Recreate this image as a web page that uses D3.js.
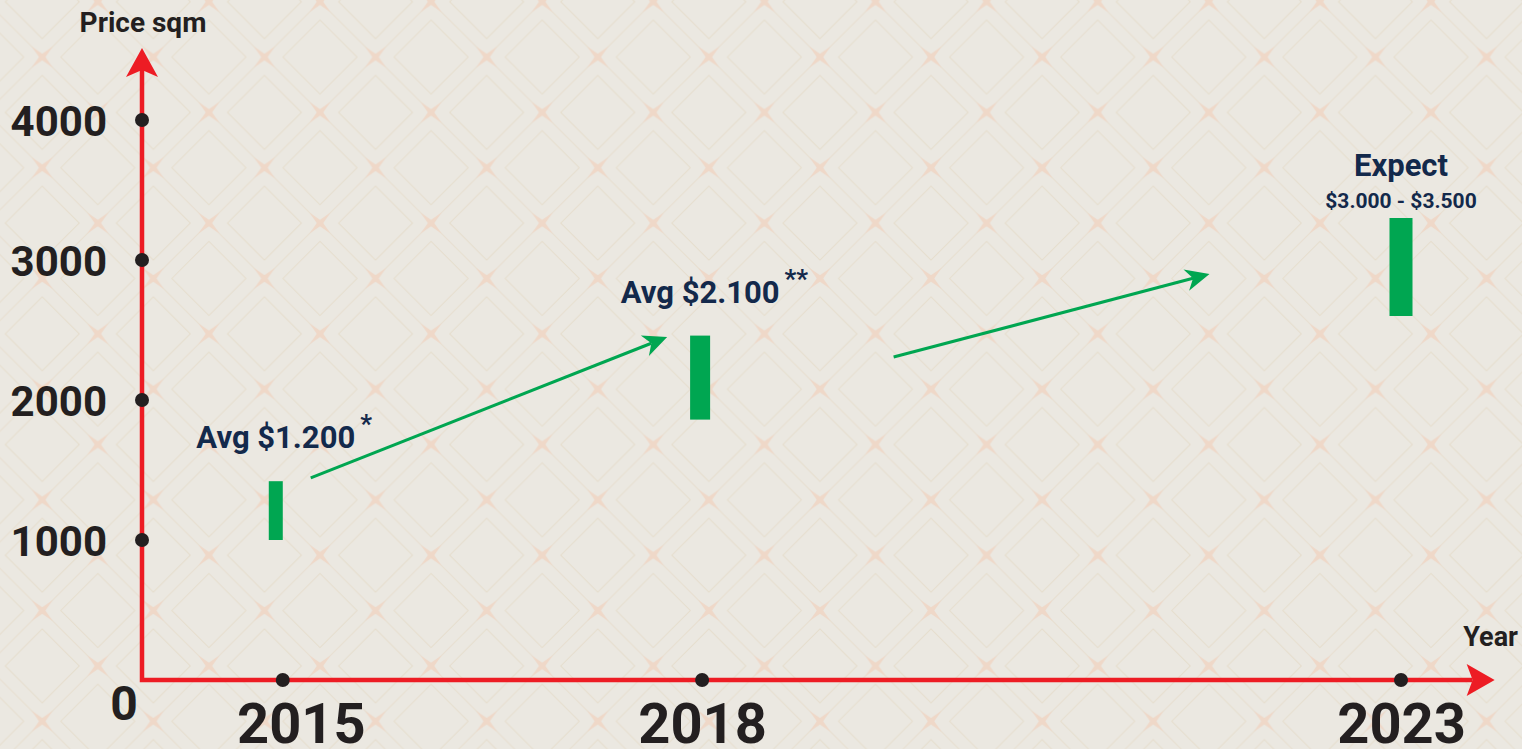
<!DOCTYPE html>
<html>
<head>
<meta charset="utf-8">
<script src="https://cdn.jsdelivr.net/npm/d3@7"></script>
<style>
  html, body { margin: 0; padding: 0; background: #ebe8e1; overflow: hidden; }
  svg { display: block; }
  text { font-family: Roboto, "Open Sans", sans-serif; font-weight: 700; }
</style>
</head>
<body>
<div id="chart"></div>
<script>
// price per sqm, low / high end of each bar
var years = [2015, 2018, 2023];
var lowPrices = [1000, 1860, 2600];
var highPrices = [1420, 2460, 3300];
var priceLabels = ['Avg $1.200', 'Avg $2.100', 'Expect'];
var footnotes = ['*', '**', ''];
var rangeLabels = ['', '', '$3.000 - $3.500'];
var yTicks = [1000, 2000, 3000, 4000];
// trend arrows, [year, price]
var trendFrom = [[2015.2, 1443], [2019.37, 2307]];
var trendTo = [[2017.75, 2450], [2021.63, 2900]];

var width = 1522,
  height = 749,
  red = '#ed1c24',
  green = '#00a651',
  ink = '#231f20',
  navy = '#13294b';

var barWidths = [14, 20, 23],
  barShift = [-7, -2, 0];

var x = d3.scaleLinear().domain([2014, 2023]).range([143, 1401]);
var y = d3.scaleLinear().domain([0, 4000]).range([680, 120]);
var originX = 142, originY = 680;

var svg = d3.select('#chart').append('svg')
  .attr('width', width)
  .attr('height', height);

// background tiles: diagonal lattice, inset diamonds, little stars
var tileW = 111.1, tileH = 110.7;
var pat = svg.append('defs').append('pattern')
  .attr('id', 'bg')
  .attr('patternUnits', 'userSpaceOnUse')
  .attr('x', -13.3).attr('y', 1.7)
  .attr('width', tileW).attr('height', tileH);

pat.append('rect').attr('width', tileW).attr('height', tileH).attr('fill', '#ebe8e1');
pat.append('path')
  .attr('d', 'M0,0L' + tileW + ',' + tileH + 'M' + tileW + ',0L0,' + tileH)
  .attr('stroke', '#e8dfd0').attr('stroke-width', 1).attr('fill', 'none');

var dr = 37;
[[tileW / 2, 0], [0, tileH / 2], [tileW, tileH / 2], [tileW / 2, tileH]].forEach(function (c) {
  pat.append('path')
    .attr('d', 'M' + (c[0] - dr) + ',' + c[1] + 'L' + c[0] + ',' + (c[1] - dr) +
      'L' + (c[0] + dr) + ',' + c[1] + 'L' + c[0] + ',' + (c[1] + dr) + 'Z')
    .attr('stroke', '#e6ddcc').attr('stroke-width', 1).attr('fill', 'none');
});

function star(cx, cy) {
  var a = 10.5, w = 3.2;
  return 'M' + (cx - a) + ',' + (cy - a) + 'L' + cx + ',' + (cy - w) +
    'L' + (cx + a) + ',' + (cy - a) + 'L' + (cx + w) + ',' + cy +
    'L' + (cx + a) + ',' + (cy + a) + 'L' + cx + ',' + (cy + w) +
    'L' + (cx - a) + ',' + (cy + a) + 'L' + (cx - w) + ',' + cy + 'Z';
}
[[0, 0], [tileW, 0], [0, tileH], [tileW, tileH], [tileW / 2, tileH / 2]].forEach(function (c) {
  pat.append('path').attr('d', star(c[0], c[1])).attr('fill', '#efd8c8');
});

svg.append('rect').attr('width', width).attr('height', height).attr('fill', 'url(#bg)');

// arrow head polygon, tip at (tx,ty), pointing along angle
function arrowHead(tx, ty, ang, len, half, notch) {
  var c = Math.cos(ang), s = Math.sin(ang);
  var bx = tx - len * c, by = ty - len * s;
  return [
    [tx, ty],
    [bx - half * s, by + half * c],
    [tx - notch * c, ty - notch * s],
    [bx + half * s, by - half * c]
  ];
}

var data = years.map(function (yr, i) {
  return {
    year: yr, low: lowPrices[i], high: highPrices[i],
    label: priceLabels[i], note: footnotes[i], range: rangeLabels[i]
  };
});

// bars
svg.selectAll('.bar')
  .data(data)
  .enter()
  .append('rect')
  .attr('class', 'bar')
  .attr('x', function (d, i) { return x(d.year) + barShift[i] - barWidths[i] / 2; })
  .attr('y', function (d) { return y(d.high); })
  .attr('width', function (d, i) { return barWidths[i]; })
  .attr('height', function (d) { return y(d.low) - y(d.high); })
  .attr('fill', green);

// trend arrows
trendFrom.forEach(function (f, i) {
  var x0 = x(f[0]), y0 = y(f[1]), x1 = x(trendTo[i][0]), y1 = y(trendTo[i][1]);
  var ang = Math.atan2(y1 - y0, x1 - x0);
  var head = arrowHead(x1, y1, ang, 24, 11, 17);
  svg.append('line')
    .attr('x1', x0).attr('y1', y0)
    .attr('x2', head[2][0]).attr('y2', head[2][1])
    .attr('stroke', green).attr('stroke-width', 3);
  svg.append('polygon').attr('points', head.join(' ')).attr('fill', green);
});

// axes frame
var yTop = y(4515), xEnd = x(2023.67);
var yHead = arrowHead(originX, yTop, -Math.PI / 2, 29, 16, 22);
var xHead = arrowHead(xEnd, originY, 0, 28, 16, 22);
svg.append('path')
  .attr('d', 'M' + originX + ',' + yHead[2][1] + 'V' + originY + 'H' + xHead[2][0])
  .attr('stroke', red).attr('stroke-width', 4.5).attr('fill', 'none');
svg.append('polygon').attr('points', yHead.join(' ')).attr('fill', red);
svg.append('polygon').attr('points', xHead.join(' ')).attr('fill', red);

// y axis labels
var yAxis = svg.append('g')
  .attr('transform', 'translate(' + originX + ',0)')
  .call(d3.axisLeft(y).tickValues(yTicks).tickSize(0).tickPadding(35).tickFormat(d3.format('d')));
yAxis.select('.domain').remove();
yAxis.selectAll('text')
  .attr('dy', '0.36em')
  .attr('fill', ink)
  .style('font-size', '42px')
  .style('font-family', 'Roboto, sans-serif')
  .style('font-weight', 700);

// x axis labels
var xAxis = svg.append('g')
  .attr('transform', 'translate(0,' + originY + ')')
  .call(d3.axisBottom(x).tickValues(years).tickSize(0).tickPadding(23).tickFormat(d3.format('d')));
xAxis.select('.domain').remove();
xAxis.selectAll('text')
  .attr('dx', function (d, i) { return i === 0 ? 18 : 0; })
  .attr('fill', ink)
  .style('font-size', '56px')
  .style('font-family', 'Roboto, sans-serif')
  .style('font-weight', 700);

svg.append('text')
  .attr('x', 124).attr('y', 720)
  .attr('text-anchor', 'middle')
  .attr('fill', ink)
  .style('font-size', '48px')
  .text('0');

// tick dots
svg.selectAll('.ydot')
  .data(yTicks)
  .enter()
  .append('circle')
  .attr('cx', originX).attr('cy', function (d) { return y(d); })
  .attr('r', 7).attr('fill', ink);
svg.selectAll('.xdot')
  .data(years)
  .enter()
  .append('circle')
  .attr('cx', function (d) { return x(d); }).attr('cy', originY)
  .attr('r', 7).attr('fill', ink);

// axis titles
svg.append('text')
  .attr('x', 143).attr('y', 32)
  .attr('text-anchor', 'middle')
  .attr('fill', ink)
  .style('font-size', '28px')
  .text('Price sqm');
svg.append('text')
  .attr('x', 1518).attr('y', 646)
  .attr('text-anchor', 'end')
  .attr('fill', ink)
  .style('font-size', '27px')
  .text('Year');

// bar labels
data.forEach(function (d, i) {
  var cx = x(d.year) + barShift[i];
  var top = y(d.high);
  var base = d.range ? top - 42 : top - 33;
  var t = svg.append('text')
    .attr('x', cx).attr('y', base)
    .attr('text-anchor', 'middle')
    .attr('fill', navy)
    .style('font-size', '31px')
    .text(d.label);
  if (d.note) {
    var w = t.node().getComputedTextLength();
    svg.append('text')
      .attr('x', cx + w / 2 + 5).attr('y', base - 15)
      .attr('fill', navy)
      .style('font-size', '26px')
      .text(d.note);
  }
  if (d.range) {
    svg.append('text')
      .attr('x', cx).attr('y', top - 10)
      .attr('text-anchor', 'middle')
      .attr('fill', navy)
      .style('font-size', '21px')
      .text(d.range);
  }
});
</script>
</body>
</html>
